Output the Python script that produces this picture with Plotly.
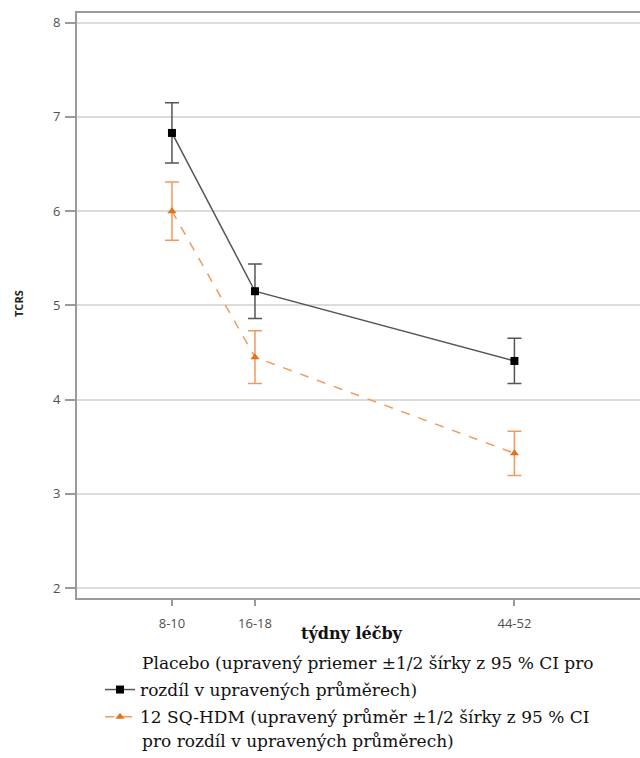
import plotly.graph_objects as go

# ---- data ----
categories = ["8-10", "16-18", "44-52"]
x_pos = [9, 17, 42]  # approximate week positions on the axis
placebo_mean = [6.83, 5.15, 4.41]
placebo_err = [0.32, 0.29, 0.24]
hdm_mean = [6.00, 4.45, 3.43]
hdm_err = [0.31, 0.28, 0.235]
y_ticks = [2, 3, 4, 5, 6, 7, 8]

legend_line1 = "Placebo (upravený priemer ±1/2 šírky z 95 % CI pro"
placebo_name = "rozdíl v upravených průměrech)"
hdm_name = "12 SQ-HDM (upravený průměr ±1/2 šírky z 95 % CI"
legend_line4 = "pro rozdíl v upravených průměrech)"

ORANGE = "#E8701A"
ORANGE_LIGHT = "#F29A5C"
GRAY = "#555555"
SERIF = "DejaVu Serif, serif"

FIG_W, FIG_H = 640, 758
L, R, T, B = 77, 640, 13, 598  # plot area in pixels
PW, PH = R - L, B - T


def px(xr):
    return (xr - L) / PW


def py(yr):
    return (B - yr) / PH


fig = go.Figure()

fig.add_trace(go.Scatter(
    x=x_pos, y=placebo_mean, name=placebo_name, legendgroup="a",
    mode="lines+markers",
    line=dict(color=GRAY, width=1.5),
    marker=dict(symbol="square", size=8, color="black"),
    error_y=dict(type="data", array=placebo_err, color=GRAY, thickness=1.5, width=7),
))
fig.add_trace(go.Scatter(
    x=x_pos, y=hdm_mean, name=hdm_name, legendgroup="b",
    mode="lines+markers",
    line=dict(color=ORANGE_LIGHT, width=1.5, dash="dash"),
    marker=dict(symbol="triangle-up", size=8, color=ORANGE),
    error_y=dict(type="data", array=hdm_err, color=ORANGE_LIGHT, thickness=1.5, width=7),
))

fig.update_layout(
    width=FIG_W, height=FIG_H,
    margin=dict(l=L, r=FIG_W - R, t=T, b=FIG_H - B),
    paper_bgcolor="white", plot_bgcolor="white",
    font=dict(family="Open Sans, DejaVu Sans, sans-serif", color="#444444"),
    showlegend=True,
    legend=dict(
        x=px(100), xanchor="left",
        y=py(672), yanchor="top",
        font=dict(family=SERIF, size=17, color="#111111"),
        traceorder="grouped", tracegroupgap=2,
        bgcolor="rgba(0,0,0,0)",
    ),
    xaxis=dict(
        range=[-0.15, 54.1],
        tickmode="array", tickvals=x_pos, ticktext=categories,
        showgrid=False, zeroline=False,
        showline=True, linecolor="#9a9a9a", linewidth=2, mirror=True,
        ticks="outside", ticklen=6, tickcolor="#9a9a9a", tickwidth=1.5,
        ticklabelstandoff=6,
        tickfont=dict(size=13, color="#505050"),
    ),
    yaxis=dict(
        range=[1.894, 8.103],
        tickmode="array", tickvals=y_ticks,
        showgrid=True, gridcolor="#dcdcdc", gridwidth=1.5, zeroline=False,
        showline=True, linecolor="#9a9a9a", linewidth=2,
        ticks="outside", ticklen=10, tickcolor="#9a9a9a", tickwidth=1.5,
        ticklabelstandoff=2,
        tickfont=dict(size=13, color="#505050"),
    ),
    annotations=[
        dict(text="<b>TCRS</b>", textangle=-90, xref="paper", yref="paper",
             x=px(18), y=py(304), showarrow=False,
             xanchor="center", yanchor="middle",
             font=dict(size=11, color="#222222")),
        dict(text="<b>týdny léčby</b>", xref="paper", yref="paper",
             x=px(352), y=py(633), showarrow=False,
             xanchor="center", yanchor="middle",
             font=dict(family=SERIF, size=16, color="#111111")),
        dict(text=legend_line1, xref="paper", yref="paper",
             x=px(140), y=py(663), showarrow=False,
             xanchor="left", yanchor="middle",
             font=dict(family=SERIF, size=17, color="#111111")),
        dict(text=legend_line4, xref="paper", yref="paper",
             x=px(140), y=py(741), showarrow=False,
             xanchor="left", yanchor="middle",
             font=dict(family=SERIF, size=17, color="#111111")),
    ],
)

fig.write_html(
    "out.html",
    config={"displayModeBar": False},
    post_script="document.body.style.margin='0';"
                "document.documentElement.style.overflow='hidden';"
                "document.body.style.overflow='hidden';",
)
